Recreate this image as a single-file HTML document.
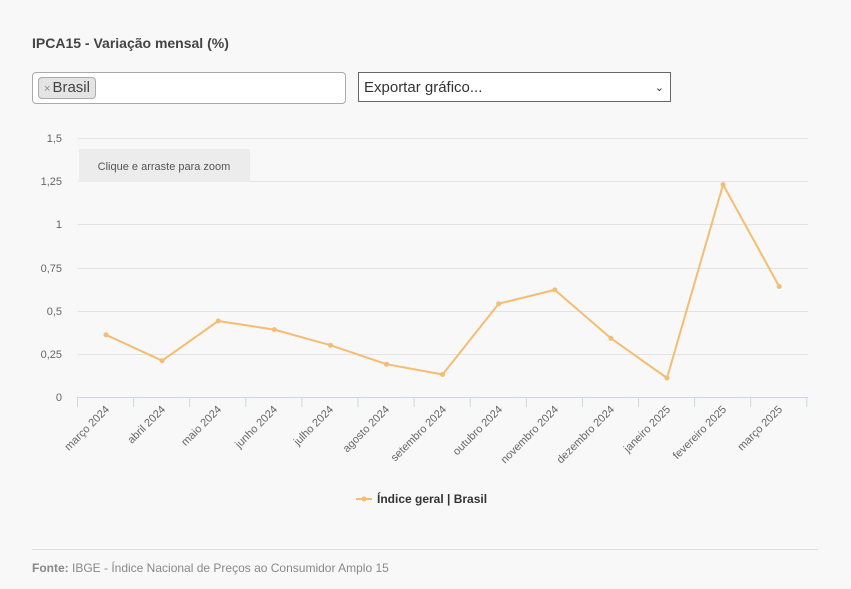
<!DOCTYPE html>
<html><head><meta charset="utf-8"><style>
body{margin:0;background:#f8f8f8;width:851px;height:589px;overflow:hidden;font-family:"Liberation Sans",sans-serif;}
.t{position:absolute;left:32px;top:35px;font-size:14px;font-weight:bold;color:#444;}
.in{position:absolute;left:32px;top:72px;width:312px;height:30px;border:1px solid #aaa;border-radius:4px;background:#fff;}
.tag{position:absolute;left:5px;top:4px;height:20px;padding:0 5px;border:1px solid #aaa;border-radius:4px;background:#e4e4e4;font-size:15px;line-height:20px;color:#444;}
.tag span{font-size:11px;color:#888;margin-right:2px;}
.sel{position:absolute;left:358px;top:72px;width:313px;height:30px;border:1px solid #666;background:#fff;font-size:15px;line-height:30px;color:#333;box-sizing:border-box;padding-left:5px;}
.sel b{position:absolute;right:6px;top:0;font-size:11px;font-weight:normal;}
.hr{position:absolute;left:32px;top:549px;width:786px;height:1px;background:#ddd;}
.f{position:absolute;left:32px;top:561px;font-size:12px;color:#888;}
</style></head><body>
<div class="t">IPCA15 - Variação mensal (%)</div>
<div class="in"><div class="tag"><span>×</span>Brasil</div></div>
<div class="sel">Exportar gráfico...<b>&#8964;</b></div>
<svg width="851" height="589" style="position:absolute;left:0;top:0" font-family="Liberation Sans, sans-serif">
<g stroke="#e3e3e3" stroke-width="1">
<line x1="78" y1="138.5" x2="808" y2="138.5"/><line x1="78" y1="181.5" x2="808" y2="181.5"/>
<line x1="78" y1="224.5" x2="808" y2="224.5"/><line x1="78" y1="268.5" x2="808" y2="268.5"/>
<line x1="78" y1="311.5" x2="808" y2="311.5"/><line x1="78" y1="354.5" x2="808" y2="354.5"/>
</g>
<rect x="79" y="149" width="171" height="33" fill="#ececec"/>
<text x="164" y="170" font-size="11" fill="#555" text-anchor="middle">Clique e arraste para zoom</text>
<g font-size="11" fill="#666" text-anchor="end">
<text x="62" y="142">1,5</text><text x="62" y="185">1,25</text><text x="62" y="228">1</text>
<text x="62" y="272">0,75</text><text x="62" y="315">0,5</text><text x="62" y="358">0,25</text><text x="62" y="401">0</text>
</g>
<g stroke="#ccd6eb" stroke-width="1">
<line x1="77.5" y1="397.5" x2="808" y2="397.5"/>
<line x1="77.5" y1="397" x2="77.5" y2="407"/><line x1="133.6" y1="397" x2="133.6" y2="407"/><line x1="189.7" y1="397" x2="189.7" y2="407"/><line x1="245.8" y1="397" x2="245.8" y2="407"/><line x1="301.9" y1="397" x2="301.9" y2="407"/><line x1="358" y1="397" x2="358" y2="407"/><line x1="414.1" y1="397" x2="414.1" y2="407"/><line x1="470.2" y1="397" x2="470.2" y2="407"/><line x1="526.3" y1="397" x2="526.3" y2="407"/><line x1="582.4" y1="397" x2="582.4" y2="407"/><line x1="638.5" y1="397" x2="638.5" y2="407"/><line x1="694.6" y1="397" x2="694.6" y2="407"/><line x1="750.7" y1="397" x2="750.7" y2="407"/><line x1="806.8" y1="397" x2="806.8" y2="407"/>
</g>
<g font-size="11" fill="#666" text-anchor="end">
<text transform="translate(110,410) rotate(-45)">março 2024</text>
<text transform="translate(166,410) rotate(-45)">abril 2024</text>
<text transform="translate(222,410) rotate(-45)">maio 2024</text>
<text transform="translate(278,410) rotate(-45)">junho 2024</text>
<text transform="translate(334,410) rotate(-45)">julho 2024</text>
<text transform="translate(390,410) rotate(-45)">agosto 2024</text>
<text transform="translate(447,410) rotate(-45)">setembro 2024</text>
<text transform="translate(503,410) rotate(-45)">outubro 2024</text>
<text transform="translate(559,410) rotate(-45)">novembro 2024</text>
<text transform="translate(615,410) rotate(-45)">dezembro 2024</text>
<text transform="translate(671,410) rotate(-45)">janeiro 2025</text>
<text transform="translate(727,410) rotate(-45)">fevereiro 2025</text>
<text transform="translate(783,410) rotate(-45)">março 2025</text>
</g>
<polyline fill="none" stroke="#f4bd72" stroke-width="2" stroke-linejoin="round" points="106,334.8 162.1,360.7 218.2,321 274.3,329.6 330.4,345.2 386.5,364.2 442.6,374.5 498.7,303.7 554.8,289.9 610.9,338.3 667,378 723.1,184.6 779.2,286.5"/>
<g fill="#f4bd72">
<circle cx="106" cy="334.8" r="2.5"/><circle cx="162.1" cy="360.7" r="2.5"/><circle cx="218.2" cy="321" r="2.5"/><circle cx="274.3" cy="329.6" r="2.5"/><circle cx="330.4" cy="345.2" r="2.5"/><circle cx="386.5" cy="364.2" r="2.5"/><circle cx="442.6" cy="374.5" r="2.5"/><circle cx="498.7" cy="303.7" r="2.5"/><circle cx="554.8" cy="289.9" r="2.5"/><circle cx="610.9" cy="338.3" r="2.5"/><circle cx="667" cy="378" r="2.5"/><circle cx="723.1" cy="184.6" r="2.5"/><circle cx="779.2" cy="286.5" r="2.5"/>
</g>
<line x1="356" y1="499" x2="372" y2="499" stroke="#f4bd72" stroke-width="2"/>
<circle cx="364" cy="499" r="2.5" fill="#f4bd72"/>
<text x="377" y="503" font-size="12" font-weight="bold" fill="#333">Índice geral | Brasil</text>
</svg>
<div class="hr"></div>
<div class="f"><b>Fonte:</b> IBGE - Índice Nacional de Preços ao Consumidor Amplo 15</div>
</body></html>
